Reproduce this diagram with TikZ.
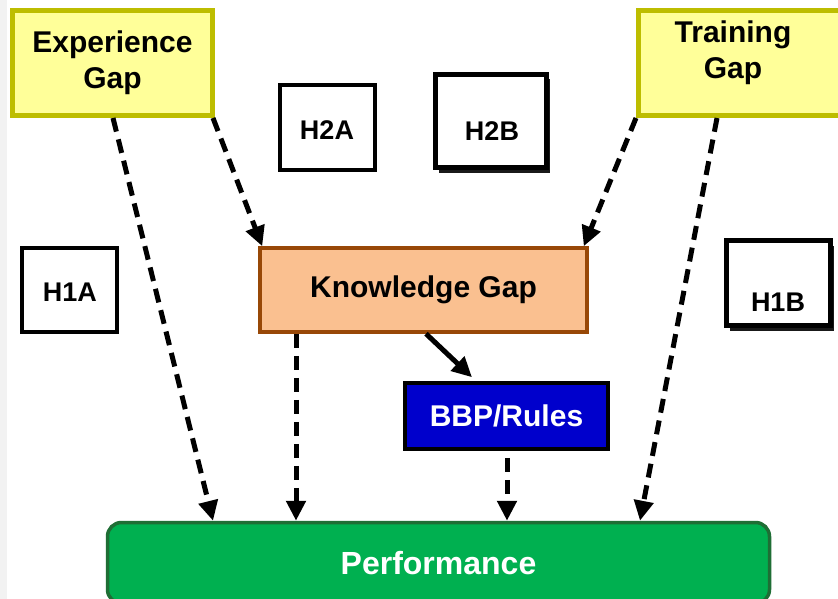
\documentclass[tikz,border=0pt]{standalone}
\usepackage{fontspec}
\setmainfont{Liberation Sans}
\usetikzlibrary{arrows.meta,shadows,calc}
\definecolor{yfill}{HTML}{FFFF99}
\definecolor{ydraw}{HTML}{BDBD00}
\definecolor{kfill}{HTML}{FAC090}
\definecolor{kdraw}{HTML}{984807}
\definecolor{bfill}{HTML}{0000CC}
\definecolor{pfill}{HTML}{00B050}
\definecolor{pdraw}{HTML}{1F6E35}
\tikzset{
  lbl/.style={font=\bfseries\fontsize{30}{36}\selectfont, align=center, inner sep=0pt},
  gapbox/.style={draw=ydraw, fill=yfill, line width=5pt, inner sep=0pt},
  hbox/.style={draw=black, fill=white, line width=4pt, inner sep=0pt,
    drop shadow={shadow xshift=2pt, shadow yshift=-2pt, opacity=0.3, fill=black!60}},
  hboxthick/.style={draw=black, fill=white, line width=5pt, inner sep=0pt,
    drop shadow={shadow xshift=3pt, shadow yshift=-5pt, opacity=0.9, fill=black}},
  htext/.style={font=\bfseries\fontsize{27}{30}\selectfont, inner sep=0pt},
  dasharrow/.style={line width=5pt, dash pattern=on 14pt off 8pt,
    -{Triangle[length=20pt,width=19pt]}},
  solidarrow/.style={line width=5pt, -{Triangle[length=20pt,width=19pt]}},
}
\begin{document}
\begin{tikzpicture}[x=1pt,y=-1pt]
\useasboundingbox (0,0) rectangle (838,599);
\clip (0,0) rectangle (838,599);
\fill[white] (0,0) rectangle (838,599);
\fill[black!5] (0,0) rectangle (7,599);

% gap boxes
\node[gapbox, minimum width=200pt, minimum height=105pt, lbl] (eg) at (112.5,63) {Experience\\Gap};
\node[gapbox, minimum width=211pt, minimum height=105pt] (tg) at (744,63) {};
\node[lbl] (tgt) at (733,53) {Training\\Gap};

% hypothesis boxes
\node[hbox, minimum width=95pt, minimum height=85pt] (h2a) at (327.5,127.5) {};
\node[htext] (h2at) at (327,130) {H2A};
\node[hboxthick, minimum width=111pt, minimum height=93pt] (h2b) at (491,121) {};
\node[htext] (h2bt) at (492,131) {H2B};
\node[hbox, minimum width=95pt, minimum height=84pt] (h1a) at (69.5,290) {};
\node[htext] (h1at) at (70,292) {H1A};
\node[hboxthick, minimum width=104pt, minimum height=85pt] (h1b) at (778.5,283) {};
\node[htext] (h1bt) at (778,302) {H1B};

% knowledge gap
\node[draw=kdraw, fill=kfill, line width=3.5pt, minimum width=327pt, minimum height=84pt, lbl] (kg) at (423.5,290) {Knowledge Gap};

% BBP
\node[draw=black, fill=bfill, line width=3.5pt, minimum width=203pt, minimum height=66pt, lbl, text=white] (bbp) at (506.5,416) {BBP/Rules};

% performance
\node[draw=pdraw, fill=pfill, line width=3.5pt, rounded corners=14pt, minimum width=662pt, minimum height=81pt,
  font=\bfseries\fontsize{32}{36}\selectfont, text=white] (perf) at (438.5,563) {Performance};

% connectors
\draw[dasharrow] (eg.south -| 113,0) -- (perf.north -| 213,0);
\draw[dasharrow] (eg.south -| 213,0) -- ([xshift=4pt]kg.north west);
\draw[dasharrow] (tg.south -| 636,0) -- ([xshift=-5pt]kg.north east);
\draw[dasharrow] (tg.south -| 717,0) -- (perf.north -| 640,0);
\draw[dasharrow] (kg.south -| 296,0) -- (perf.north -| 296,0);
\draw[solidarrow] (kg.south -| 426,0) -- ([yshift=4pt]bbp.north -| 472,0);
\draw[dasharrow, shorten <=7pt] (bbp.south -| 507,0) -- (perf.north -| 507,0);
\end{tikzpicture}
\end{document}
